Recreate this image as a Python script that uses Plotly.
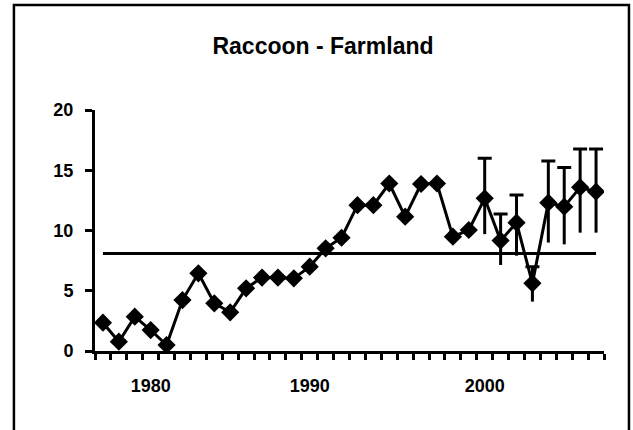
import plotly.graph_objects as go

# ---- data ----
years = list(range(1977, 2009))
counts = [2.35, 0.77, 2.85, 1.74, 0.50, 4.23, 6.45, 3.96, 3.21, 5.20,
          6.09, 6.09, 6.03, 7.00, 8.52, 9.40, 12.10, 12.10, 13.90, 11.15,
          13.86, 13.90, 9.49, 10.04, 12.67, 9.16, 10.65, 5.62, 12.31, 11.98,
          13.58, 13.22]
err_plus = [None] * 24 + [3.33, 2.21, 2.30, 1.38, 3.46, 3.24, 3.18, 3.54]
err_minus = [None] * 24 + [2.97, 2.02, 2.74, 1.52, 3.31, 3.13, 3.76, 3.40]
long_term_mean = 8.1
tick_positions = [3, 13, 24]
tick_labels = ["1980", "1990", "2000"]

# ---- geometry ----
W, H = 633, 430
L, R, T, B = 94.7, 604.5, 110, 351

idx = list(range(len(years)))
ep = [v if v is not None else 0 for v in err_plus]
em = [v if v is not None else 0 for v in err_minus]

fig = go.Figure()
fig.add_trace(go.Scatter(
    x=[idx[0], idx[-1]], y=[long_term_mean, long_term_mean], mode="lines",
    line=dict(color="black", width=3), showlegend=False, hoverinfo="skip"))
# lower error bars without caps
fig.add_trace(go.Scatter(
    x=idx, y=counts, mode="markers", marker=dict(size=1, opacity=0),
    error_y=dict(type="data", symmetric=False, array=[0] * len(idx), arrayminus=em,
                 color="black", thickness=3, width=0, visible=True),
    showlegend=False, hoverinfo="skip"))
# upper error bars with caps
fig.add_trace(go.Scatter(
    x=idx, y=counts, mode="markers", marker=dict(size=1, opacity=0),
    error_y=dict(type="data", symmetric=False, array=ep, arrayminus=[0] * len(idx),
                 color="black", thickness=3, width=7, visible=True),
    showlegend=False, hoverinfo="skip"))
fig.add_trace(go.Scatter(
    x=idx, y=counts, mode="lines+markers", customdata=years,
    line=dict(color="black", width=3),
    marker=dict(symbol="diamond", size=14, color="black"),
    showlegend=False))

font = dict(family="Liberation Sans, Arial, sans-serif", color="black", weight="bold")

def px_x(p):
    return (p - L) / (R - L)

def px_y(p):
    return (B - p) / (B - T)

fig.add_shape(type="rect", xref="paper", yref="paper",
              x0=px_x(13.5), x1=px_x(629.5), y0=px_y(440), y1=px_y(5),
              line=dict(color="black", width=2.5), fillcolor="rgba(0,0,0,0)",
              layer="above")

fig.update_layout(
    width=W, height=H,
    margin=dict(l=L, r=W - R, t=T, b=H - B, pad=0),
    paper_bgcolor="white", plot_bgcolor="white",
    title=dict(text="Raccoon - Farmland", x=323 / W, xref="container", xanchor="center",
               y=1 - 46 / H, yref="container", yanchor="middle",
               font=dict(size=23, **font)),
    xaxis=dict(range=[-0.5, len(idx) - 0.5], showgrid=False, zeroline=False,
               showline=True, linecolor="black", linewidth=3,
               tickmode="array", tickvals=tick_positions, ticktext=tick_labels,
               ticks="", ticklabelstandoff=16,
               tickfont=dict(size=18, **font),
               minor=dict(tick0=-0.5, dtick=1, ticks="outside", ticklen=6,
                          tickwidth=3, tickcolor="black", showgrid=False)),
    yaxis=dict(range=[0, 20], showgrid=False, zeroline=False,
               showline=True, linecolor="black", linewidth=3,
               tickvals=[0, 5, 10, 15, 20], ticks="outside", ticklen=7,
               tickwidth=3, tickcolor="black", ticklabelstandoff=8,
               tickfont=dict(size=18, **font)),
)

fig.write_html("out.html")
